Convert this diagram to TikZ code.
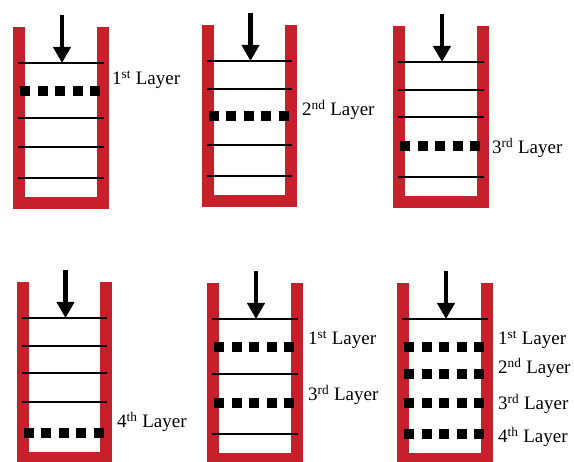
\documentclass[tikz,border=0pt]{standalone}
\usepackage{fontspec}
\setmainfont{Liberation Serif}
\usetikzlibrary{arrows.meta}
\definecolor{cupred}{RGB}{198,32,42}
\tikzset{
  cup wall/.style={draw=cupred, line width=12pt, line join=miter},
  layer line/.style={draw=black, line width=1.4pt},
  powder layer/.style={draw=black, line width=10pt, dash pattern=on 10pt off 7.5pt},
  press arrow/.style={draw=black, line width=4.5pt, -{Triangle[width=17pt,length=16pt]}},
  layer label/.style={anchor=west, inner sep=0pt, font=\fontsize{19}{21}\selectfont},
}

\begin{document}
\begin{tikzpicture}[x=1pt,y=-1pt]
\useasboundingbox (0,0) rectangle (574,462);

% 1st layer
\begin{scope}[shift={(19,27)}]
  \draw[cup wall] (0,0) -- (0,176.5) -- (83.5,176.5) -- (83.5,0);
  \foreach \y in {36,91,120,151} \draw[layer line] (-1,\y) -- (84.5,\y);
  \draw[powder layer] (1,64) -- (81,64);
  \coordinate (a-top) at (43,-12);
  \coordinate (a-lid) at (43,36);
  \draw[press arrow] (a-top) -- (a-lid);
  \node[layer label] (a-first) at (93,53) {1\textsuperscript{st} Layer};
\end{scope}

% 2nd layer
\begin{scope}[shift={(207.5,25)}]
  \draw[cup wall] (0,0) -- (0,176.5) -- (83.5,176.5) -- (83.5,0);
  \foreach \y in {36,64,120,151} \draw[layer line] (-1,\y) -- (84.5,\y);
  \draw[powder layer] (1,91) -- (81,91);
  \coordinate (b-top) at (43,-12);
  \coordinate (b-lid) at (43,36);
  \draw[press arrow] (b-top) -- (b-lid);
  \node[layer label] (b-second) at (94.5,85) {2\textsuperscript{nd} Layer};
\end{scope}

% 3rd layer
\begin{scope}[shift={(399,26)}]
  \draw[cup wall] (0,0) -- (0,176.5) -- (83.5,176.5) -- (83.5,0);
  \foreach \y in {36,64,91,151} \draw[layer line] (-1,\y) -- (84.5,\y);
  \draw[powder layer] (1,120) -- (81,120);
  \coordinate (c-top) at (43,-12);
  \coordinate (c-lid) at (43,36);
  \draw[press arrow] (c-top) -- (c-lid);
  \node[layer label] (c-third) at (93,122) {3\textsuperscript{rd} Layer};
\end{scope}

% 4th layer
\begin{scope}[shift={(22.5,282)}]
  \draw[cup wall] (0,0) -- (0,176.5) -- (83.5,176.5) -- (83.5,0);
  \foreach \y in {36,64,91,120} \draw[layer line] (-1,\y) -- (84.5,\y);
  \draw[powder layer] (1,151) -- (81,151);
  \coordinate (d-top) at (43,-12);
  \coordinate (d-lid) at (43,36);
  \draw[press arrow] (d-top) -- (d-lid);
  \node[layer label] (d-fourth) at (94.5,140) {4\textsuperscript{th} Layer};
\end{scope}

% 1st and 3rd layers
\begin{scope}[shift={(213,283)}]
  \draw[cup wall] (0,0) -- (0,176.5) -- (83.5,176.5) -- (83.5,0);
  \foreach \y in {36,91,151} \draw[layer line] (-1,\y) -- (84.5,\y);
  \foreach \y in {64,120} \draw[powder layer] (1,\y) -- (81,\y);
  \coordinate (e-top) at (43,-12);
  \coordinate (e-lid) at (43,36);
  \draw[press arrow] (e-top) -- (e-lid);
  \node[layer label] (e-first) at (95,57) {1\textsuperscript{st} Layer};
  \node[layer label] (e-third) at (95,112) {3\textsuperscript{rd} Layer};
\end{scope}

% all four layers
\begin{scope}[shift={(403,283)}]
  \draw[cup wall] (0,0) -- (0,176.5) -- (83.5,176.5) -- (83.5,0);
  \draw[layer line] (-1,36) -- (84.5,36);
  \foreach \y in {64,91,120,151} \draw[powder layer] (1,\y) -- (81,\y);
  \coordinate (f-top) at (43,-12);
  \coordinate (f-lid) at (43,36);
  \draw[press arrow] (f-top) -- (f-lid);
  \node[layer label] (f-first) at (95,57) {1\textsuperscript{st} Layer};
  \node[layer label] (f-second) at (95,85) {2\textsuperscript{nd} Layer};
  \node[layer label] (f-third) at (95,121) {3\textsuperscript{rd} Layer};
  \node[layer label] (f-fourth) at (95,154) {4\textsuperscript{th} Layer};
\end{scope}
\end{tikzpicture}
\end{document}
